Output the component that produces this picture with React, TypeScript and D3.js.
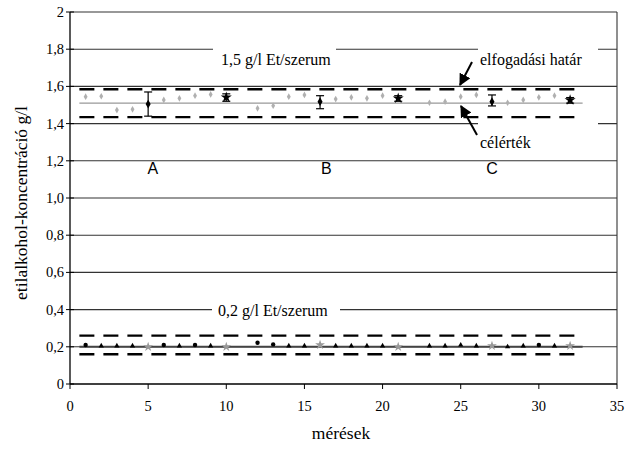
import React from "react";
import * as d3 from "d3";

const yTicks = [0, 0.2, 0.4, 0.6, 0.8, 1.0, 1.2, 1.4, 1.6, 1.8, 2];
const xTicks = [0, 5, 10, 15, 20, 25, 30, 35];

const upperIdx = [1, 2, 3, 4, 6, 7, 8, 9, 12, 13, 14, 15, 17, 18, 19, 20, 23, 24, 25, 26, 28, 29, 30, 31];
const upperVals = [1.545, 1.547, 1.473, 1.477, 1.527, 1.536, 1.55, 1.557, 1.482, 1.496, 1.545, 1.554, 1.532, 1.541, 1.536, 1.55, 1.512, 1.518, 1.545, 1.554, 1.512, 1.527, 1.541, 1.55];

const sumIdx = [5, 10, 16, 21, 27, 32];
const sumMean = [1.505, 1.541, 1.518, 1.536, 1.518, 1.527];
const sumLo = [1.44, 1.52, 1.48, 1.52, 1.495, 1.51];
const sumHi = [1.57, 1.56, 1.55, 1.55, 1.554, 1.54];
const sumKind = ["bar", "star", "bar", "star", "bar", "star"];

const lowerIdx = [1, 2, 3, 4, 5, 6, 7, 8, 9, 10, 12, 13, 14, 15, 16, 17, 18, 19, 20, 21, 23, 24, 25, 26, 27, 28, 29, 30, 31, 32];
const lowerVals = [0.21, 0.205, 0.205, 0.205, 0.2, 0.21, 0.205, 0.21, 0.205, 0.2, 0.222, 0.213, 0.205, 0.205, 0.21, 0.205, 0.205, 0.205, 0.205, 0.2, 0.205, 0.205, 0.21, 0.205, 0.205, 0.2, 0.205, 0.21, 0.205, 0.205];
const lowerShape = ["c", "t", "t", "t", "s", "c", "t", "c", "t", "s", "c", "c", "t", "t", "s", "t", "t", "t", "t", "s", "t", "t", "t", "t", "s", "t", "t", "c", "t", "s"];

const upperLimits = [1.585, 1.435];
const upperTarget = 1.51;
const lowerLimits = [0.26, 0.16];
const lowerTarget = 0.2;
const lineSpan = [0.6, 32.8];

const groupLabels = ["A", "B", "C"];
const groupX = [5.3, 16.4, 27];
const groupY = 1.13;

export default function App() {
  const x = d3.scaleLinear().domain([0, 35]).range([70, 617]);
  const y = d3.scaleLinear().domain([0, 2]).range([384, 12]);
  const serif = "'Liberation Serif', 'Times New Roman', serif";
  const sans = "'Liberation Sans', Arial, sans-serif";
  const star = d3.symbol().type(d3.symbolStar).size(38)();
  const tri = d3.symbol().type(d3.symbolTriangle).size(12)();
  const cross = d3.symbol().type(d3.symbolStar).size(30)();
  const diamond = d3.symbol().type(d3.symbolDiamond).size(22)();
  const dot = d3.symbol().type(d3.symbolDiamond).size(13)();

  return (
    <svg width={625} height={451} style={{ position: "absolute", left: 0, top: 0, background: "#fff" }} fontFamily={serif}>
      <defs>
        <marker id="ah" viewBox="0 0 10 10" refX="9" refY="5" markerWidth="6" markerHeight="6" orient="auto-start-reverse">
          <path d="M0,0 L10,5 L0,10 z" fill="#000" />
        </marker>
      </defs>
      {yTicks.filter((t) => t > 0).map((t) => (
        <line key={"g" + t} x1={x(0)} x2={x(35)} y1={y(t)} y2={y(t)} stroke="#333" strokeWidth={1.1} />
      ))}
      <line x1={x(35)} x2={x(35)} y1={y(2)} y2={y(0)} stroke="#333" strokeWidth={1.1} />
      <line x1={x(0)} x2={x(0)} y1={y(2)} y2={y(0)} stroke="#000" strokeWidth={1.3} />
      <line x1={x(0)} x2={x(35)} y1={y(0)} y2={y(0)} stroke="#000" strokeWidth={1.3} />
      {yTicks.map((t) => (
        <g key={"yt" + t}>
          <line x1={x(0) - 4} x2={x(0) + 4} y1={y(t)} y2={y(t)} stroke="#000" />
          <text x={x(0) - 6} y={y(t) + 5} textAnchor="end" fontSize={14.5}>
            {t === 0 || t === 2 ? String(t) : t.toFixed(1).replace(".", ",")}
          </text>
        </g>
      ))}
      {xTicks.map((t) => (
        <g key={"xt" + t}>
          <line x1={x(t)} x2={x(t)} y1={y(0)} y2={y(0) + 5} stroke="#000" />
          <text x={x(t)} y={411} textAnchor="middle" fontSize={14.5}>{t}</text>
        </g>
      ))}
      <text x={341} y={439} textAnchor="middle" fontSize={17.5}>mérések</text>
      <text transform={`translate(27,203) rotate(-90)`} textAnchor="middle" fontSize={17.5}>etilalkohol-koncentráció g/l</text>

      <rect x={213} y={44} width={123} height={28} fill="#fff" />
      <text x={221} y={65} fontSize={16}>1,5 g/l Et/szerum</text>
      <rect x={212} y={300} width={128} height={22} fill="#fff" />
      <text x={218} y={316} fontSize={16}>0,2 g/l Et/szerum</text>
      <rect x={478} y={44} width={120} height={26} fill="#fff" />
      <text x={480} y={65} fontSize={16}>elfogadási határ</text>
      <rect x={478} y={118} width={120} height={36} fill="#fff" />
      <text x={480} y={148} fontSize={16}>célérték</text>

      {groupLabels.map((g, i) => (
        <text key={g} x={x(groupX[i])} y={y(groupY)} textAnchor="middle" fontFamily={sans} fontSize={16}>{g}</text>
      ))}

      {[...upperLimits, ...lowerLimits].map((v, i) => (
        <line key={"lim" + i} x1={x(lineSpan[0])} x2={x(lineSpan[1])} y1={y(v)} y2={y(v)} stroke="#000" strokeWidth={2.4} strokeDasharray="15,9" />
      ))}
      <line x1={x(lineSpan[0])} x2={x(lineSpan[1])} y1={y(upperTarget)} y2={y(upperTarget)} stroke="#999" strokeWidth={1.4} />
      <line x1={x(lineSpan[0])} x2={x(lineSpan[1])} y1={y(lowerTarget)} y2={y(lowerTarget)} stroke="#444" strokeWidth={2} />

      {upperIdx.map((d, i) => (
        <path key={"u" + i} d={dot} transform={`translate(${x(d)},${y(upperVals[i])})`} fill="#b0b0b0" />
      ))}
      {sumIdx.map((d, i) => (
        <g key={"s" + i}>
          <line x1={x(d)} x2={x(d)} y1={y(sumLo[i])} y2={y(sumHi[i])} stroke="#000" strokeWidth={1.2} />
          <line x1={x(d) - 4} x2={x(d) + 4} y1={y(sumLo[i])} y2={y(sumLo[i])} stroke="#000" strokeWidth={1.2} />
          <line x1={x(d) - 4} x2={x(d) + 4} y1={y(sumHi[i])} y2={y(sumHi[i])} stroke="#000" strokeWidth={1.2} />
          <path d={sumKind[i] === "star" ? star : diamond} transform={`translate(${x(d)},${y(sumMean[i])})`} fill="#000" />
        </g>
      ))}

      {lowerIdx.map((d, i) => {
        const s = lowerShape[i];
        const tr = `translate(${x(d)},${y(lowerVals[i])})`;
        if (s === "c") return <circle key={"l" + i} cx={x(d)} cy={y(lowerVals[i])} r={2.2} fill="#000" />;
        if (s === "s") return <path key={"l" + i} d={cross} transform={tr} fill="#999" />;
        return <path key={"l" + i} d={tri} transform={tr} fill="#000" />;
      })}

      <line x1={472} y1={62} x2={460} y2={85} stroke="#000" strokeWidth={2} markerEnd="url(#ah)" />
      <line x1={477} y1={135} x2={461} y2={106} stroke="#000" strokeWidth={2} markerEnd="url(#ah)" />
    </svg>
  );
}
